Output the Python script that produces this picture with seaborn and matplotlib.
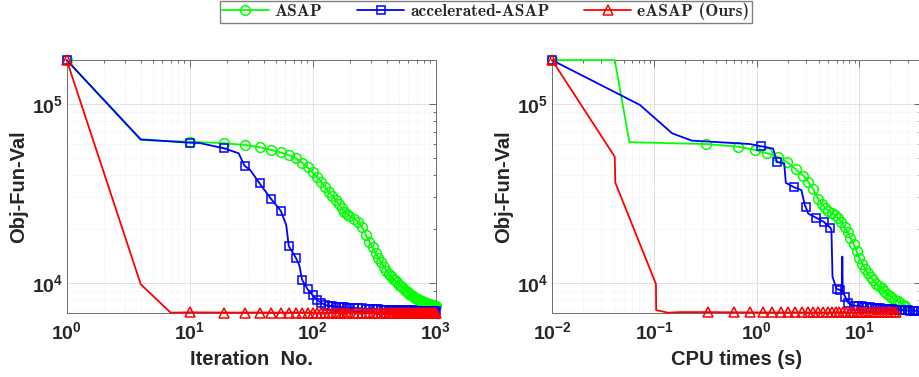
import numpy as np
import matplotlib
matplotlib.use('Agg')
import matplotlib.pyplot as plt
import matplotlib.ticker as mticker
from matplotlib.lines import Line2D
import seaborn as sns

# ---- left panel: objective value vs iteration ----
early_it = [10, 19, 28, 37, 46, 55, 64, 73, 82, 91, 100, 109, 118, 127, 136, 145, 154, 163, 172, 181, 190, 199]
tail_it = [217, 235, 253, 271, 289, 307, 325, 343, 361, 379, 397, 415, 433, 451, 469,
           487, 505, 523, 541, 559, 577, 595, 613, 631, 649, 667, 685, 703, 721, 739,
           757, 775, 793, 811, 829, 847, 865, 883, 901, 919, 937, 955, 973, 991, 1000]

asap_it = [1, 4] + early_it + tail_it
asap_val = [176000, 62800,
            61500, 60300, 59000, 57300, 55300, 53600, 51800, 49600, 47000, 44200, 41500,
            38800, 36600, 34200, 32000, 30500, 29000, 27500, 26100, 25000, 24300, 23700,
            22800, 21900, 20400, 18500, 17000, 15800, 14600, 13800, 13000, 12300, 11700,
            11250, 10850, 10550, 10300, 10050, 9760, 9550, 9340, 9160, 8990, 8840, 8700,
            8570, 8450, 8340, 8240, 8150, 8070, 7990, 7930, 7870, 7820, 7770, 7720, 7680,
            7640, 7600, 7560, 7530, 7500, 7470, 7450, 7430, 7420]

acc_it = [1, 4, 10, 12, 19, 25, 28, 31, 37, 46, 55, 61, 64, 73, 78, 82, 91, 100, 109,
          118, 127, 136, 145, 154, 163, 172, 181, 190, 199] + tail_it
acc_val = [176000, 63400, 60700, 60500, 56500, 53000, 45000, 42800, 36000, 29400, 25300,
           21000, 16000, 13800, 12500, 10400, 9200, 8500, 8000, 7700, 7500, 7420, 7380,
           7350, 7320, 7300, 7280, 7260, 7240,
           7220, 7200, 7180, 7160, 7140, 7120, 7100, 7090, 7080, 7070, 7060, 7050, 7045,
           7040, 7035, 7030, 7025, 7020, 7015, 7010, 7005, 7000, 6998, 6996, 6994, 6992,
           6990, 6988, 6986, 6984, 6982, 6980, 6978, 6976, 6975, 6974, 6973, 6972, 6971,
           6970, 6969, 6968, 6967, 6966, 6965]

easap_it = [1, 4, 7] + early_it + tail_it
easap_val = [176000, 9800, 6800,
             6830, 6810, 6810, 6815, 6810, 6810, 6812, 6810, 6810, 6808, 6810, 6810,
             6810, 6810, 6812, 6810, 6810, 6810, 6810, 6810, 6810, 6810,
             6810, 6810, 6810, 6810, 6810, 6810, 6810, 6810, 6810, 6810, 6810, 6810,
             6810, 6810, 6810, 6810, 6810, 6810, 6810, 6810, 6810, 6810, 6810, 6810,
             6810, 6810, 6810, 6810, 6810, 6810, 6810, 6810, 6810, 6810, 6810, 6810,
             6810, 6810, 6810, 6810, 6810, 6810, 6810, 6810, 6810]

# ---- right panel: objective value vs CPU time (s) ----
asap_t = [0.01, 0.041, 0.057, 0.32, 0.66, 0.96, 1.25, 1.6, 1.98, 2.4, 2.83, 3.17, 3.55,
          3.97, 4.3, 4.65, 5.0, 5.4, 5.8, 6.2, 6.7, 7.2, 7.7, 8.2, 8.8, 9.4, 10, 10.7,
          11.4, 12.1, 12.9, 13.7, 14.6, 15.5, 16.5, 17.5, 18.6, 19.8, 21, 22.3, 23.7,
          25.2, 26.7, 28]
asap_tval = [176000, 176000, 61100, 59700, 57700, 55300, 53000, 50700, 47200, 43200,
             39800, 36800, 33300, 29500, 27500, 26200, 25300, 24600, 24000, 23000, 21900,
             20500, 19200, 17900, 16500, 15000, 13700, 12800, 12000, 11300, 10700, 10300,
             9900, 9550, 9300, 9000, 8700, 8450, 8250, 8050, 7880, 7700, 7550, 7430]

acc_t = [0.01, 0.0723, 0.149, 0.231, 0.855, 1.11, 1.44, 1.57, 1.85, 1.92, 2.31, 2.72,
         2.95, 3.0, 3.17, 3.79, 4.51, 5.23, 5.35, 5.48, 6.0, 6.5, 6.75, 6.83, 6.9, 7.3,
         7.8, 8.4, 8.8, 9.8, 10.6, 11.2, 11.9, 12.6, 13.3, 14.1, 14.9, 15.8, 16.7, 17.7,
         18.7, 19.8, 21, 22.2, 23.5, 24.9, 26.4, 28, 29.6, 31.3, 33.2, 35.1, 37.2, 40]
acc_tval = [176000, 98700, 68500, 62400, 59700, 58000, 56300, 47300, 46600, 36200,
            34200, 33000, 27000, 26600, 24400, 23100, 21900, 20300, 19800, 10800, 9250,
            9100, 9000, 14000, 8800, 8360, 7730, 7500, 7450, 7410, 7370, 7340, 7310,
            7280, 7250, 7220, 7200, 7180, 7160, 7140, 7120, 7100, 7085, 7070, 7055, 7040,
            7025, 7010, 7000, 6990, 6985, 6980, 6975, 6965]

easap_t = [0.01, 0.041, 0.0415, 0.1035, 0.104, 0.136, 0.177, 0.335, 0.6, 0.85, 1.15, 1.4,
           1.74, 2.02, 2.35, 2.73, 3.17, 3.55, 3.97, 4.45, 4.95, 5.4, 5.9, 6.4, 6.9, 7.5,
           8.1, 8.7, 9.4, 10.1, 10.9, 11.7, 12.6, 13.5, 14.5, 15.6, 16.7, 17.9, 19.2,
           20.6, 22, 23.1]
easap_tval = [176000, 50700, 36300, 9840, 7030, 6800, 6850, 6850, 6830, 6830, 6820, 6820,
              6820, 6820, 6820, 6820, 6820, 6820, 6820, 6820, 6820, 6820, 6820, 6820,
              6820, 6820, 6820, 6820, 6820, 6820, 6820, 6820, 6820, 6820, 6820, 6820,
              6820, 6820, 6820, 6820, 6820, 6820]

labels = ['ASAP', 'accelerated-ASAP', 'eASAP (Ours)']
colors = ['#00ff00', '#0000ff', '#ff0000']
markers = ['o', 's', '^']
msizes = [7, 6, 7.5]

# style
sns.set_style('white')
plt.rcParams['font.family'] = ['Liberation Sans', 'DejaVu Sans']
plt.rcParams['mathtext.fontset'] = 'custom'
plt.rcParams['mathtext.bf'] = 'Liberation Sans:bold'
plt.rcParams['mathtext.rm'] = 'Liberation Sans'
txt = '#262626'

fig = plt.figure(figsize=(9.2, 3.77), dpi=100)
ax1 = fig.add_axes([0.0725, 0.1706, 0.401, 0.670])
ax2 = fig.add_axes([0.6, 0.1706, 0.401, 0.670])


def draw(ax, x, y, k, idx, z):
    sns.lineplot(x=x, y=y, ax=ax, color=colors[k], linewidth=1.3, marker=markers[k],
                 ms=msizes[k], mfc='none', mec=colors[k], mew=1.1, markevery=idx,
                 estimator=None, sort=False, clip_on=False, zorder=z)


def every9(its):
    # MATLAB MarkerIndices 1:9:end
    return [i for i, v in enumerate(its) if (v - 1) % 9 == 0]


for ax in (ax1, ax2):
    ax.set_xscale('log')
    ax.set_yscale('log')

draw(ax1, asap_it, asap_val, 0, every9(asap_it), 3)
draw(ax1, acc_it, acc_val, 1, every9(acc_it), 4)
draw(ax1, easap_it, easap_val, 2, every9(easap_it), 5)

draw(ax2, asap_t, asap_tval, 0, [0] + list(range(3, len(asap_t))), 3)
draw(ax2, acc_t, acc_tval, 1,
     [0, 5, 7, 10, 13, 15, 16, 17, 20, 21, 25, 26, 28, 29] + list(range(30, len(acc_t))), 4)
draw(ax2, easap_t, easap_tval, 2, [0] + list(range(7, len(easap_t))), 5)

ax1.set_xlim(1, 1000)
ax2.set_xlim(0.01, 40)


def fmt(v, pos):
    return r'$\mathbf{10^{%d}}$' % int(round(np.log10(v)))


for ax in (ax1, ax2):
    ax.set_ylim(6800, 176000)
    for axis in (ax.xaxis, ax.yaxis):
        axis.set_major_locator(mticker.LogLocator(base=10, numticks=12))
        axis.set_minor_locator(mticker.LogLocator(base=10, subs=np.arange(2, 10), numticks=30))
        axis.set_major_formatter(mticker.FuncFormatter(fmt))
        axis.set_minor_formatter(mticker.NullFormatter())
    ax.tick_params(which='both', direction='in', top=True, right=True, color='#555555',
                   labelcolor=txt, labelsize=14, width=0.6)
    ax.tick_params(which='major', length=5)
    ax.tick_params(which='minor', length=2.5)
    ax.tick_params(axis='x', pad=6)
    ax.tick_params(axis='y', pad=2.5)
    ax.grid(True, which='major', color='#dcdcdc', lw=0.6)
    ax.grid(True, which='minor', color='#e2e2e2', lw=0.5, ls=(0, (1, 2)))
    ax.set_axisbelow(True)
    for s in ax.spines.values():
        s.set_color('#6e6e6e')
        s.set_linewidth(0.7)
    ax.set_ylabel('Obj-Fun-Val', fontsize=14.5, fontweight='bold', color=txt, labelpad=3)
    leg = ax.get_legend()
    if leg is not None:
        leg.remove()

ax1.set_xlabel('Iteration  No.', fontsize=14.5, fontweight='bold', color=txt, labelpad=5)
ax2.set_xlabel('CPU times (s)', fontsize=14.5, fontweight='bold', color=txt, labelpad=5)

handles = [Line2D([], [], color=colors[k], lw=1.3, marker=markers[k], ms=msizes[k],
                  mfc='none', mec=colors[k], mew=1.1) for k in range(3)]
fig.legend(handles, labels, loc='upper center', bbox_to_anchor=(0.528, 1.0), ncol=3,
           prop={'family': 'cmb10', 'size': 12.5}, frameon=True, fancybox=False,
           edgecolor='#808080', framealpha=1, handlelength=2.7, handletextpad=0.35,
           columnspacing=2.0, borderpad=0.12, borderaxespad=0.05)

fig.savefig('out.png', dpi=100)
